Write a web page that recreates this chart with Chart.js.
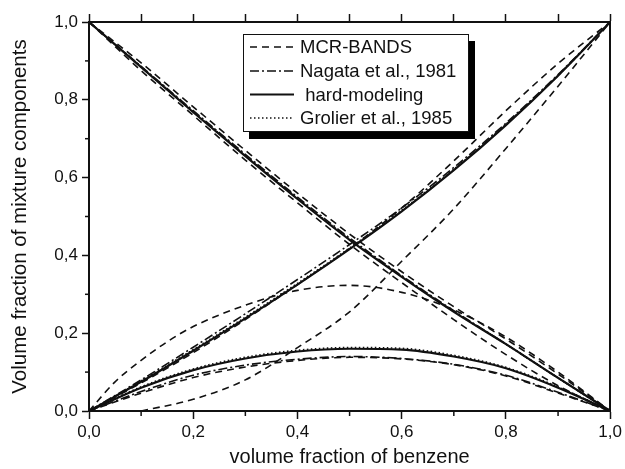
<!DOCTYPE html>
<html><head><meta charset="utf-8">
<script src="https://cdn.jsdelivr.net/npm/chart.js@4/dist/chart.umd.min.js"></script>
<style>html,body{margin:0;padding:0;background:#fff}canvas{display:block}</style>
</head><body>
<canvas id="c" width="625" height="469"></canvas>
<script>
// ---- data ----
const xs = [0, 0.1, 0.2, 0.3, 0.4, 0.5, 0.6, 0.7, 0.8, 0.9, 1];
const hardInc  = [0, 0.075, 0.155, 0.238, 0.325, 0.416, 0.513, 0.619, 0.735, 0.862, 1];
const hardDec  = [1, 0.884, 0.768, 0.655, 0.545, 0.440, 0.345, 0.255, 0.172, 0.085, 0];
const hardHump = [0, 0.060, 0.105, 0.135, 0.153, 0.160, 0.158, 0.140, 0.110, 0.060, 0];
const nagInc   = [0, 0.080, 0.164, 0.250, 0.338, 0.428, 0.522, 0.626, 0.740, 0.865, 1];
const nagDec   = [1, 0.886, 0.772, 0.660, 0.550, 0.445, 0.348, 0.258, 0.172, 0.085, 0];
const nagHump  = [0, 0.050, 0.092, 0.118, 0.133, 0.140, 0.135, 0.120, 0.092, 0.048, 0];
const groInc   = [0, 0.077, 0.158, 0.241, 0.328, 0.419, 0.516, 0.621, 0.737, 0.863, 1];
const groDec   = [1, 0.885, 0.770, 0.657, 0.547, 0.442, 0.346, 0.256, 0.172, 0.085, 0];
const groHump  = [0, 0.062, 0.108, 0.138, 0.156, 0.163, 0.161, 0.143, 0.112, 0.062, 0];
const mcrIncHigh  = [0, 0.072, 0.150, 0.235, 0.325, 0.418, 0.522, 0.643, 0.772, 0.893, 1];
const mcrIncLow   = [null, 0, 0.030, 0.080, 0.163, 0.255, 0.385, 0.520, 0.675, 0.835, 1];
const mcrDecHigh  = [1, 0.895, 0.782, 0.670, 0.560, 0.455, 0.358, 0.268, 0.185, 0.095, 0];
const mcrDecLow   = [1, 0.875, 0.760, 0.645, 0.535, 0.428, 0.330, 0.235, 0.145, 0.065, 0];
const mcrHumpHighX = [0, 0.05, 0.1, 0.15, 0.2, 0.3, 0.4, 0.5, 0.6, 0.7, 0.8, 0.9, 1];
const mcrHumpHigh  = [0, 0.075, 0.130, 0.178, 0.217, 0.272, 0.310, 0.323, 0.305, 0.260, 0.190, 0.100, 0];
const mcrHumpLow  = [0, 0.046, 0.086, 0.113, 0.130, 0.138, 0.134, 0.119, 0.090, 0.046, 0];
const xTicks = [0, 0.2, 0.4, 0.6, 0.8, 1.0];
const yTicks = [0, 0.2, 0.4, 0.6, 0.8, 1.0];
const legendLabels = ['MCR-BANDS', 'Nagata et al., 1981', ' hard-modeling', 'Grolier et al., 1985'];

// ---- styles ----
const STY = {
  mcr:  {dash: [7, 5], width: 1.6},
  nag:  {dash: [9, 3, 2, 3], width: 1.6},
  hard: {dash: [], width: 2.2},
  gro:  {dash: [1.5, 2.5], width: 1.7}
};
const FONT = "'Liberation Sans', Arial, sans-serif";

function pts(xArr, yArr) { return xArr.map((x, i) => ({x: x, y: yArr[i]})); }
function ds(label, xArr, yArr, s) {
  return {label: label, data: pts(xArr, yArr), borderColor: '#111', borderWidth: s.width,
    borderDash: s.dash, pointRadius: 0, fill: false, cubicInterpolationMode: 'monotone', spanGaps: false};
}

const datasets = [
  ds('MCR-BANDS', xs, mcrIncHigh, STY.mcr),
  ds('MCR-BANDS', xs, mcrIncLow, STY.mcr),
  ds('MCR-BANDS', xs, mcrDecHigh, STY.mcr),
  ds('MCR-BANDS', xs, mcrDecLow, STY.mcr),
  ds('MCR-BANDS', mcrHumpHighX, mcrHumpHigh, STY.mcr),
  ds('MCR-BANDS', xs, mcrHumpLow, STY.mcr),
  ds('Nagata et al., 1981', xs, nagInc, STY.nag),
  ds('Nagata et al., 1981', xs, nagDec, STY.nag),
  ds('Nagata et al., 1981', xs, nagHump, STY.nag),
  ds('Grolier et al., 1985', xs, groInc, STY.gro),
  ds('Grolier et al., 1985', xs, groDec, STY.gro),
  ds('Grolier et al., 1985', xs, groHump, STY.gro),
  ds('hard-modeling', xs, hardInc, STY.hard),
  ds('hard-modeling', xs, hardDec, STY.hard),
  ds('hard-modeling', xs, hardHump, STY.hard)
];

const fmt = v => Number(v).toFixed(1).replace('.', ',');

const minorTicks = {
  id: 'minorTicks',
  afterDraw(chart) {
    const ctx = chart.ctx, x = chart.scales.x, y = chart.scales.y, a = chart.chartArea;
    ctx.save();
    ctx.strokeStyle = '#111'; ctx.lineWidth = 1.5;
    for (let i = 1; i < 10; i += 2) {
      const v = i / 10;
      const px = x.getPixelForValue(v);
      ctx.beginPath(); ctx.moveTo(px, a.bottom); ctx.lineTo(px, a.bottom + 5); ctx.stroke();
      const py = y.getPixelForValue(v);
      ctx.beginPath(); ctx.moveTo(a.left, py); ctx.lineTo(a.left - 4, py); ctx.stroke();
    }
    ctx.restore();
  }
};

const boxLegend = {
  id: 'boxLegend',
  afterDraw(chart) {
    const ctx = chart.ctx;
    const L = 243, T = 34, R = 469, B = 132;
    ctx.save();
    ctx.fillStyle = '#000';
    ctx.fillRect(L + 6, T + 7, R - L, B - T);
    ctx.fillStyle = '#fff';
    ctx.fillRect(L, T, R - L, B - T);
    ctx.strokeStyle = '#111'; ctx.lineWidth = 1;
    ctx.strokeRect(L + 0.5, T + 0.5, R - L - 1, B - T - 1);
    const styles = [STY.mcr, STY.nag, STY.hard, STY.gro];
    const rows = [47, 71, 94.5, 118];
    ctx.font = '18.5px ' + FONT;
    ctx.textBaseline = 'middle';
    ctx.fillStyle = '#111';
    for (let i = 0; i < 4; i++) {
      const s = styles[i];
      ctx.setLineDash(s.dash); ctx.lineWidth = s.width; ctx.strokeStyle = '#111';
      ctx.beginPath(); ctx.moveTo(250, rows[i]); ctx.lineTo(294, rows[i]); ctx.stroke();
      ctx.setLineDash([]);
      ctx.fillText(legendLabels[i], 300, rows[i] + 1);
    }
    ctx.restore();
  }
};

new Chart(document.getElementById('c'), {
  type: 'line',
  data: {datasets: datasets},
  options: {
    responsive: false, animation: false, devicePixelRatio: 1,
    layout: {padding: {left: 0, right: 12, top: 0, bottom: 0}},
    plugins: {legend: {display: false}, tooltip: {enabled: false}},
    scales: {
      x: {
        type: 'linear', position: 'bottom', min: 0, max: 1,
        afterBuildTicks: s => { s.ticks = xTicks.map(v => ({value: v})); },
        afterFit: s => { s.height = 58; },
        ticks: {callback: v => fmt(v), color: '#111', font: {family: FONT, size: 17}, padding: 3, maxRotation: 0},
        grid: {drawOnChartArea: false, tickLength: 8, tickWidth: 1.5, tickColor: '#111'},
        border: {color: '#111', width: 2},
        title: {display: true, text: 'volume fraction of benzene', color: '#111',
          font: {family: FONT, size: 20}, padding: {top: 0, bottom: 0}}
      },
      xTop: {
        type: 'linear', position: 'top', min: 0, max: 1,
        afterBuildTicks: s => { s.ticks = [0,0.1,0.2,0.3,0.4,0.5,0.6,0.7,0.8,0.9,1].map(v => ({value: v})); },
        afterFit: s => { s.height = 22; },
        ticks: {callback: () => '', font: {size: 1}, padding: 0},
        grid: {drawOnChartArea: false, tickLength: 8, tickWidth: 1.5, tickColor: '#111'},
        border: {color: '#111', width: 2}
      },
      y: {
        type: 'linear', position: 'left', min: 0, max: 1,
        afterBuildTicks: s => { s.ticks = yTicks.map(v => ({value: v})); },
        afterFit: s => { s.width = 89; },
        ticks: {callback: v => fmt(v), color: '#111', font: {family: FONT, size: 17}, padding: 4},
        grid: {drawOnChartArea: false, tickLength: 7, tickWidth: 1.5, tickColor: '#111'},
        border: {color: '#111', width: 2},
        title: {display: true, text: 'Volume fraction of mixture components', color: '#111',
          font: {family: FONT, size: 20.5}, padding: {top: 8, bottom: 0}}
      },
      yRight: {
        type: 'linear', position: 'right', min: 0, max: 1,
        afterFit: s => { s.width = 0; },
        ticks: {display: false},
        grid: {drawOnChartArea: false, drawTicks: false},
        border: {color: '#111', width: 2}
      }
    }
  },
  plugins: [minorTicks, boxLegend]
});
</script>
</body></html>
